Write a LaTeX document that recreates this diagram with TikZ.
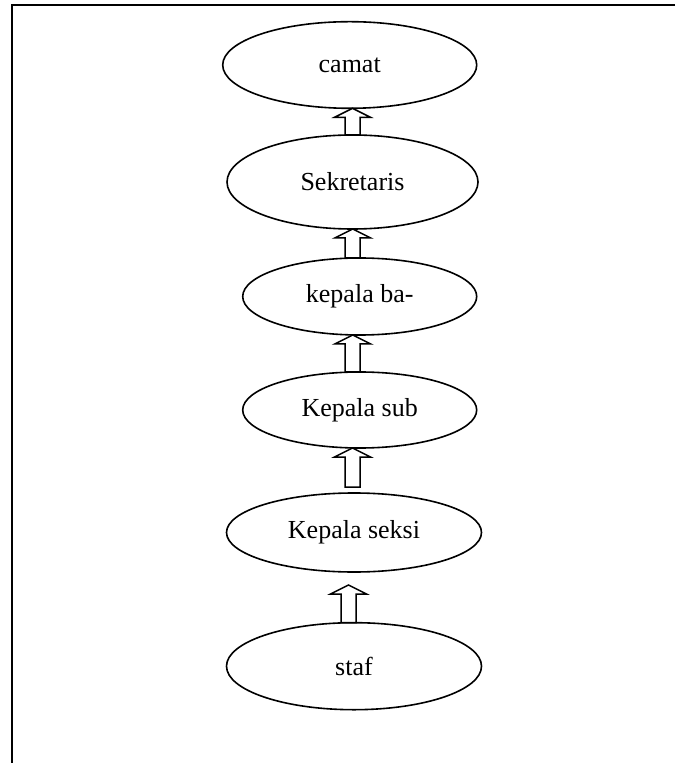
\documentclass[tikz,border=0pt]{standalone}
\usepackage{fontspec}
\setmainfont{Liberation Serif}
\usepackage{tikz}
\usetikzlibrary{shapes.geometric,positioning,calc}

\begin{document}
\begin{tikzpicture}[
    x=1pt, y=1pt,
    jabatan/.style={ellipse, draw, line width=0.8pt, inner sep=0pt, outer sep=0pt,
                    font=\fontsize{13}{15}\selectfont},
    blockarr/.style={draw, fill=white, line width=0.75pt, line join=miter},
    node distance=14pt
]
\useasboundingbox (0,0) rectangle (337.5,-381.5);

% frame (top and left only)
\draw[line width=1pt] (337.5,-2.75) -- (5.75,-2.75) -- (5.75,-381.5);

\node[jabatan, minimum width=127pt, minimum height=43.3pt] (camat) at (174.85,-32.5) {camat};
\node[jabatan, minimum width=125.5pt, minimum height=47pt, below=13.35pt of camat, xshift=1.4pt] (sekretaris) {Sekretaris};
\node[jabatan, minimum width=117pt, minimum height=38.5pt, below=14.5pt of sekretaris, xshift=3.6pt] (kabag) {kepala ba-};
\node[jabatan, minimum width=117pt, minimum height=38pt, below=18.5pt of kabag] (kasub) {Kepala sub};
\node[jabatan, minimum width=127.5pt, minimum height=39.5pt, below=22.5pt of kasub, xshift=-2.85pt] (kasi) {Kepala seksi};
\node[jabatan, minimum width=127.5pt, minimum height=43.5pt, below=25.35pt of kasi] (staf) {staf};

% hollow arrows: lower/upper/x offset/gap below/gap above
\foreach \lo/\hi/\dx/\gl/\gu in {staf/kasi/-2.75pt/0pt/6.5pt,
                                 kasi/kasub/-0.75pt/3pt/0pt,
                                 kasub/kabag/-3.5pt/0pt/0pt,
                                 kabag/sekretaris/-3.5pt/0pt/0pt,
                                 sekretaris/camat/0pt/0pt/0pt}
  \draw[blockarr] let \p1=(\lo.north), \p2=(\hi.south) in
    (\x1+\dx-3.75pt, \y1+\gl) -- (\x1+\dx-3.75pt, \y2-\gu-4.5pt)
    -- (\x1+\dx-9pt, \y2-\gu-4.5pt) -- (\x1+\dx, \y2-\gu)
    -- (\x1+\dx+9pt, \y2-\gu-4.5pt) -- (\x1+\dx+3.75pt, \y2-\gu-4.5pt)
    -- (\x1+\dx+3.75pt, \y1+\gl) -- cycle;

\end{tikzpicture}
\end{document}
